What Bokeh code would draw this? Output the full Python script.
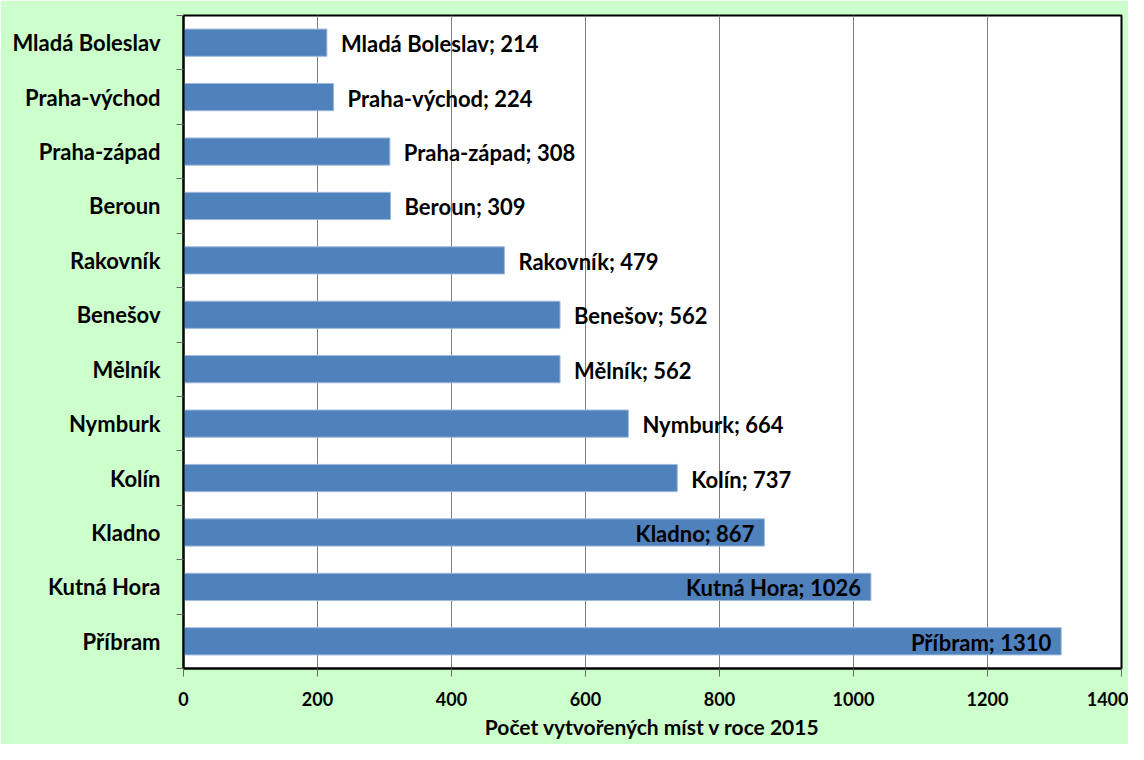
from bokeh.plotting import figure
from bokeh.models import Range1d, FixedTicker, ColumnDataSource
from bokeh.embed import file_html
from bokeh.resources import INLINE
from bokeh.core.properties import value

districts = ["Mladá Boleslav", "Praha-východ", "Praha-západ", "Beroun", "Rakovník",
             "Benešov", "Mělník", "Nymburk", "Kolín", "Kladno", "Kutná Hora", "Příbram"]
jobs = [214, 224, 308, 309, 479, 562, 562, 664, 737, 867, 1026, 1310]
x_ticks = [0, 200, 400, 600, 800, 1000, 1200, 1400]
x_title = "Počet vytvořených míst v roce 2015"

n = len(districts)
ypos = [n - i - 0.5 for i in range(n)]
labels = [f"{d}; {v}" for d, v in zip(districts, jobs)]

FONT = "Lato"
BG = "#CCFFCC"

p = figure(width=1128, height=744, output_backend="svg", toolbar_location=None,
           x_range=Range1d(0, 1400), y_range=Range1d(0, n),
           min_border_left=183, min_border_right=7, min_border_top=15, min_border_bottom=76)
p.background_fill_color = "white"
p.border_fill_color = BG
p.outline_line_color = "black"
p.outline_line_width = 2

# grid
p.ygrid.visible = False
p.xgrid.ticker = FixedTicker(ticks=x_ticks)
p.xgrid.grid_line_color = "#808080"
p.xgrid.grid_line_width = 1

# bars
src = ColumnDataSource(dict(y=ypos, v=jobs, lab=labels))
p.hbar(y="y", right="v", left=0, height=0.5, source=src,
       fill_color="#4F81BD", line_color="#9DB9DC", line_width=1)

# labels
out_idx = [i for i, v in enumerate(jobs) if v < 800]
in_idx = [i for i, v in enumerate(jobs) if v >= 800]
src_out = ColumnDataSource(dict(x=[jobs[i] for i in out_idx], y=[ypos[i] for i in out_idx],
                                t=[labels[i] for i in out_idx]))
src_in = ColumnDataSource(dict(x=[jobs[i] for i in in_idx], y=[ypos[i] for i in in_idx],
                               t=[labels[i] for i in in_idx]))
p.text(x="x", y="y", text="t", source=src_out, x_offset=14, y_offset=1,
       text_font=value(FONT), text_font_style="bold", text_font_size="22px",
       text_align="left", text_baseline="middle", text_color="black")
p.text(x="x", y="y", text="t", source=src_in, x_offset=-10, y_offset=1,
       text_font=value(FONT), text_font_style="bold", text_font_size="22px",
       text_align="right", text_baseline="middle", text_color="black")

# x axis
xa = p.xaxis[0]
xa.ticker = FixedTicker(ticks=x_ticks)
xa.axis_line_color = "black"
xa.axis_line_width = 2
xa.major_tick_out = 8
xa.major_tick_in = 0
xa.major_tick_line_color = "#666666"
xa.minor_tick_line_color = None
xa.major_label_text_font = FONT
xa.major_label_text_font_style = "bold"
xa.major_label_text_font_size = "18px"
xa.major_label_text_color = "black"
xa.major_label_standoff = 15
xa.axis_label = x_title
xa.axis_label_text_font = FONT
xa.axis_label_text_font_style = "bold"
xa.axis_label_text_font_size = "21px"
xa.axis_label_text_color = "black"
xa.axis_label_standoff = 5

# y axis: labels at centers, tick marks at boundaries (minor ticks)
ya = p.yaxis[0]
ya.ticker = FixedTicker(ticks=ypos, minor_ticks=list(range(n + 1)))
ya.major_label_overrides = {y: d for y, d in zip(ypos, districts)}
ya.axis_line_color = "black"
ya.axis_line_width = 2
ya.major_tick_out = 0
ya.major_tick_in = 0
ya.minor_tick_out = 7
ya.minor_tick_in = 0
ya.minor_tick_line_color = "#666666"
ya.major_label_text_font = FONT
ya.major_label_text_font_style = "bold"
ya.major_label_text_font_size = "22px"
ya.major_label_text_color = "black"
ya.major_label_standoff = 16

open("out.html", "w").write(file_html(p, INLINE))
